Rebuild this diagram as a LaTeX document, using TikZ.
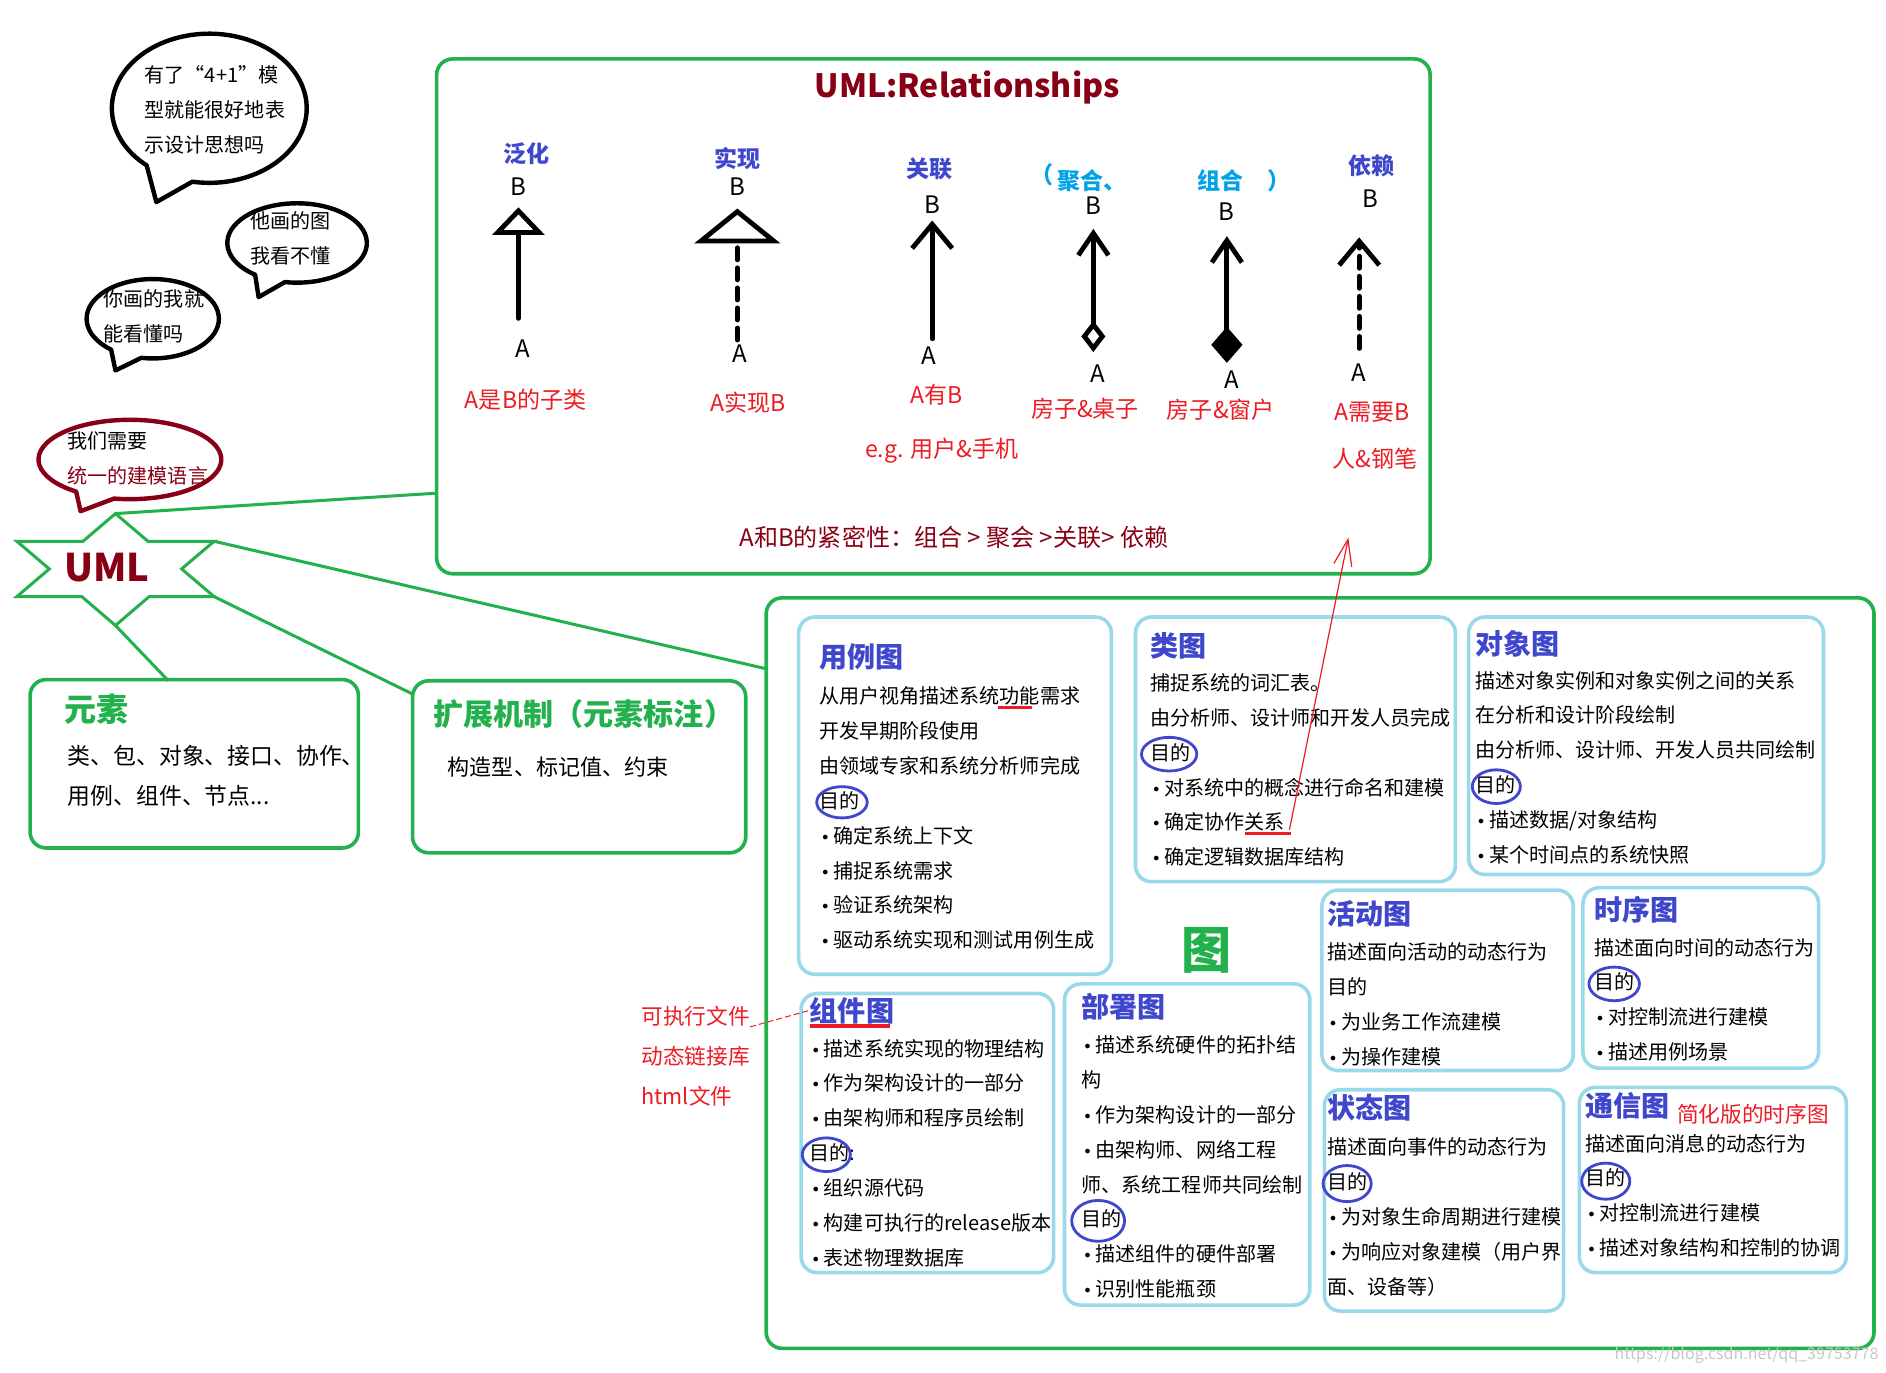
\documentclass[tikz,border=0pt]{standalone}
\usepackage{fontspec}
\setmainfont{Noto Sans CJK SC}
\newfontfamily\dvs{DejaVu Sans}
\usetikzlibrary{arrows.meta}
\definecolor{gr}{HTML}{22B14C}
\definecolor{lb}{HTML}{99D9EA}
\definecolor{bl}{HTML}{3F48CC}
\definecolor{dr}{HTML}{880015}
\definecolor{rd}{HTML}{ED1C24}
\definecolor{cy}{HTML}{00A2E8}
\newcommand\fz[1]{\fontsize{#1}{#1}\selectfont}
\newcommand\bu{\makebox[7pt][l]{\hspace{0.6pt}{\dvs\fontsize{8}{8}\selectfont •}}}
\newcommand\mybox[6]{\node[#6, minimum width={(#4-#2)*0.6pt}, minimum height={(#5-#3)*0.6pt}] (#1) at ({(#2+#4)/2},{(#3+#5)/2}) {};}
\newcommand\tlines[4]{\foreach \t [count=\i from 0] in {#4} {\node[body] (#1\i) at (#2,{#3+29*\i}) {\t};}}
\newcommand\bubble[9]{\draw[#9] ({#1+#3*cos(#6)},{#2+#4*sin(#6)}) arc[start angle=#6, end angle={#5+360}, x radius=#3, y radius=#4] -- (#7,#8) -- cycle;}
\begin{document}
\begin{tikzpicture}[x=0.6pt,y=-0.6pt,
  grline/.style={draw=gr, line width=1.5pt},
  gbox/.style={draw=gr, line width=1.8pt, rounded corners=8pt},
  lbox/.style={draw=lb, line width=1.8pt, rounded corners=8pt},
  body/.style={anchor=west, inner sep=0pt, font=\fz{10}, text height=8pt, text depth=2pt},
  ttl/.style={anchor=west, inner sep=0pt, font=\fz{14}\bfseries, text=bl},
  rel/.style={line width=2.4pt, line cap=round, line join=round},
  letter/.style={inner sep=0pt, font=\fz{12}},
  rlab/.style={inner sep=0pt, font=\fz{11.5}\bfseries},
  redl/.style={inner sep=0pt, font=\fz{11.5}, text=rd},
  circ/.style={draw=bl, line width=1.4pt},
  bub/.style={draw=black, line width=2.2pt, line join=round, fill=white},
  uline/.style={draw=rd, line width=1.6pt},
]
\fill[white] (0,0) rectangle (1568,1141);
\useasboundingbox (0,0) rectangle (1568,1141);

% ---------- speech bubbles ----------
\bubble{174}{90}{81}{62}{100}{130}{130}{168}{bub}
\bubble{247}{202}{58}{33}{100}{127}{215}{247}{bub}
\bubble{127}{265}{55}{33}{100}{129}{96}{308}{bub}
\bubble{108}{382}{76}{33}{100}{126}{67}{425}{bub, draw=dr}
\node[body] (q1) at (120,64) {有了“4+1”模};
\node[body] (q2) at (120,93) {型就能很好地表};
\node[body] (q3) at (120,122) {示设计思想吗};
\node[body] (q4) at (208,185) {他画的图};
\node[body] (q5) at (208,214) {我看不懂};
\node[body] (q6) at (86,250) {你画的我就};
\node[body] (q7) at (86,279) {能看懂吗};
\node[body] (q8) at (56,368) {我们需要};
\node[body, text=dr] (q9) at (56,397) {统一的建模语言};

% ---------- boxes ----------
\mybox{relbox}{363}{49}{1189}{477}{gbox}
\mybox{figbox}{637}{497}{1558}{1121}{gbox}
\mybox{elembox}{25}{565}{298}{705}{gbox}
\mybox{extbox}{343}{566}{620}{709}{gbox}
\mybox{b1}{664}{513}{924}{810}{lbox}
\mybox{b2}{944}{513}{1210}{733}{lbox}
\mybox{b3}{1221}{513}{1516}{727}{lbox}
\mybox{b4}{1099}{740}{1308}{890}{lbox}
\mybox{b5}{1316}{738}{1512}{888}{lbox}
\mybox{b6}{666}{826}{876}{1058}{lbox}
\mybox{b7}{885}{818}{1089}{1085}{lbox}
\mybox{b8}{1101}{906}{1300}{1090}{lbox}
\mybox{b9}{1313}{904}{1535}{1058}{lbox}

% ---------- star and connectors ----------
\coordinate (sT) at (96,427);
\coordinate (s1) at (123,450);
\coordinate (sUR) at (178,450);
\coordinate (s2) at (151,473);
\coordinate (sLR) at (178,496);
\coordinate (s3) at (124,496);
\coordinate (sB) at (96,520);
\coordinate (s4) at (68,496);
\coordinate (sLL) at (14,496);
\coordinate (s5) at (41,473);
\coordinate (sUL) at (14,450);
\coordinate (s6) at (69,450);
\coordinate (relin) at (363,410);
\coordinate (figin) at (637,556);
\coordinate (extin) at (343,577);
\coordinate (elemin) at (140,566);
\draw[grline] (sT) -- (relin);
\draw[grline] (sUR) -- (figin);
\draw[grline] (sLR) -- (extin);
\draw[grline] (sB) -- (elemin);
\draw[grline, fill=white, line join=miter] (sT) -- (s1) -- (sUR) -- (s2) -- (sLR) -- (s3) -- (sB) -- (s4) -- (sLL) -- (s5) -- (sUL) -- (s6) -- cycle;
\node[font=\fz{19}\bfseries, text=dr, inner sep=0pt] (uml) at (89,472) {UML};

% ---------- elements / extension ----------
\node[anchor=west, inner sep=0pt, font=\fz{16}\bfseries, text=gr] (et) at (53,590) {元素};
\node[anchor=west, inner sep=0pt, font=\fz{11.4}] (e1) at (56,628) {类、包、对象、接口、协作、};
\node[anchor=west, inner sep=0pt, font=\fz{11.4}] (e2) at (56,662) {用例、组件、节点...};
\node[anchor=west, inner sep=0pt, font=\fz{15}\bfseries, text=gr] (xt) at (360,594) {扩展机制（元素标注）};
\node[anchor=west, inner sep=0pt, font=\fz{11}] (x1) at (372,638) {构造型、标记值、约束};

% ---------- relationships ----------
\node[font=\fz{16}\bfseries, text=dr, inner sep=0pt] (rtitle) at (804,73) {UML:Relationships};
\node[rlab, text=bl] (l1) at (438,128) {泛化};
\node[rlab, text=bl] (l2) at (613,132) {实现};
\node[rlab, text=bl] (l3) at (773,140) {关联};
\node[rlab, text=cy] (l4a) at (866,145) {（};
\node[rlab, text=cy] (l4) at (908,150) {聚合、};
\node[rlab, text=cy] (l5) at (1015,150) {组合};
\node[rlab, text=cy] (l5a) at (1063,150) {）};
\node[rlab, text=bl] (l6) at (1140,138) {依赖};

\node[letter] (B1) at (431,155) {B};
\node[letter] (A1) at (435,290) {A};
\node[letter] (B2) at (613,155) {B};
\node[letter] (A2) at (615,294) {A};
\node[letter] (B3) at (775,170) {B};
\node[letter] (A3) at (772,296) {A};
\node[letter] (B4) at (909,171) {B};
\node[letter] (A4) at (913,311) {A};
\node[letter] (B5) at (1020,176) {B};
\node[letter] (A5) at (1024,316) {A};
\node[letter] (B6) at (1139,165) {B};
\node[letter] (A6) at (1130,310) {A};

\draw[rel, -{Triangle[open,length=13.8pt,width=25.8pt]}, shorten <=10.6pt, shorten >=5.8pt] (B1.south |- A1.north) -- (B1.south);
\draw[rel, dash pattern=on 6pt off 4pt, -{Triangle[open,length=17.4pt,width=42.6pt]}, shorten <=2.2pt, shorten >=6.4pt] (B2.south |- A2.north) -- (B2.south);
\draw[rel, -{Straight Barb[length=12pt,width=20pt]}, shorten <=4pt, shorten >=3.4pt] (B3.south |- A3.north) -- (B3.south);
\draw[rel, {Diamond[open,length=15.6pt,width=12pt]}-{Straight Barb[length=11pt,width=15pt]}, shorten <=6.4pt, shorten >=7pt] (B4.south |- A4.north) -- (B4.south);
\draw[rel, {Diamond[length=18pt,width=15.6pt]}-{Straight Barb[length=11pt,width=15pt]}, shorten <=4pt, shorten >=7.6pt] (B5.south |- A5.north) -- (B5.south);
\draw[rel, dash pattern=on 6pt off 4pt, -{Straight Barb[length=12pt,width=20pt]}, shorten <=7.6pt, shorten >=14.8pt] (A6.north) -- (A6.north |- B6.south);

\node[redl] (r1) at (437,332) {A是B的子类};
\node[redl] (r2) at (622,335) {A实现B};
\node[redl] (r3) at (779,328) {A有B};
\node[redl] (r3b) at (783,375) {e.g. 用户\&手机};
\node[redl] (r4) at (902,340) {房子\&桌子};
\node[redl] (r5) at (1015,341) {房子\&窗户};
\node[redl] (r6) at (1141,343) {A需要B};
\node[redl] (r6b) at (1143,381) {人\&钢笔};
\node[redl, text=dr, font=\fz{12}] (close) at (793,447) {A和B的紧密性：组合 > 聚会 >关联> 依赖};

% ---------- diagrams ----------
\node[font=\fz{25}\bfseries, text=gr, inner sep=0pt] (tu) at (1003,790) {图};

\node[ttl] (t1) at (681,546) {用例图};
\tlines{u}{681}{580}{从用户视角描述系统功能需求,开发早期阶段使用,由领域专家和系统分析师完成,目的,\bu 确定系统上下文,\bu 捕捉系统需求,\bu 验证系统架构,\bu 驱动系统实现和测试用例生成}
\draw[circ] (700,667) ellipse [x radius=21, y radius=13];
\draw[uline] (830,588) -- (858,588);

\node[ttl] (t2) at (956,537) {类图};
\tlines{c}{956}{569}{捕捉系统的词汇表。,由分析师、设计师和开发人员完成,目的,\bu 对系统中的概念进行命名和建模,\bu 确定协作关系,\bu 确定逻辑数据库结构}
\draw[circ] (972,627) ellipse [x radius=23, y radius=14];
\draw[uline] (1035,693) -- (1073,693);

\node[ttl] (t3) at (1226,535) {对象图};
\tlines{o}{1226}{567}{描述对象实例和对象实例之间的关系,在分析和设计阶段绘制,由分析师、设计师、开发人员共同绘制,目的,\bu 描述数据/对象结构,\bu 某个时间点的系统快照}
\draw[circ] (1244,654) ellipse [x radius=20, y radius=14];

\node[ttl] (t4) at (1103,760) {活动图};
\tlines{a}{1103}{793}{描述面向活动的动态行为,目的,\bu 为业务工作流建模,\bu 为操作建模}

\node[ttl] (t5) at (1325,756) {时序图};
\tlines{s}{1325}{789}{描述面向时间的动态行为,目的,\bu 对控制流进行建模,\bu 描述用例场景}
\draw[circ] (1342,818) ellipse [x radius=21, y radius=14];

\node[ttl] (t6) at (673,840) {组件图};
\draw[uline] (673,853) -- (740,853);
\tlines{k}{673}{873}{\bu 描述系统实现的物理结构,\bu 作为架构设计的一部分,\bu 由架构师和程序员绘制,目的:,\bu 组织源代码,\bu 构建可执行的release版本,\bu 表述物理数据库}
\draw[circ] (687,960) ellipse [x radius=20, y radius=14];

\node[ttl] (t7) at (899,837) {部署图};
\tlines{d}{899}{870}{\bu 描述系统硬件的拓扑结,构,\bu 作为架构设计的一部分,\bu 由架构师、网络工程,师、系统工程师共同绘制,目的:,\bu 描述组件的硬件部署,\bu 识别性能瓶颈}
\draw[circ] (913,1015) ellipse [x radius=22, y radius=17];

\node[ttl] (t8) at (1103,921) {状态图};
\tlines{z}{1103}{955}{描述面向事件的动态行为,目的,\bu 为对象生命周期进行建模,\bu 为响应对象建模（用户界,面、设备等）}
\draw[circ] (1120,984) ellipse [x radius=20, y radius=15];

\node[ttl] (t9) at (1318,919) {通信图};
\node[anchor=west, inner sep=0pt, font=\fz{10.8}, text=rd] (t9b) at (1394,926) {简化版的时序图};
\tlines{m}{1318}{952}{描述面向消息的动态行为,目的,\bu 对控制流进行建模,\bu 描述对象结构和控制的协调}
\draw[circ] (1335,982) ellipse [x radius=20, y radius=15];

% ---------- side labels ----------
\node[anchor=west, inner sep=0pt, font=\fz{10.8}, text=rd] (exe) at (533,845) {可执行文件};
\node[anchor=west, inner sep=0pt, font=\fz{10.8}, text=rd] (dll) at (533,878) {动态链接库};
\node[anchor=west, inner sep=0pt, font=\fz{10.8}, text=rd] (html) at (533,911) {html文件};
\draw[draw=rd, line width=0.5pt, dash pattern=on 3pt off 1.5pt] (exe.south east) -- (t6.west);

% ---------- red arrow ----------
\coordinate (gx) at (1072,690);
\coordinate (gy) at (1121,447);
\draw[draw=rd, line width=0.6pt, -{Straight Barb[length=13pt,width=9pt]}] (gx) -- (gy);

% ---------- watermark ----------
\node[anchor=east, inner sep=0pt, font=\fz{8}, text=black!22] (wm) at (1562,1127) {https://blog.csdn.net/qq\_39753778};
\end{tikzpicture}
\end{document}
